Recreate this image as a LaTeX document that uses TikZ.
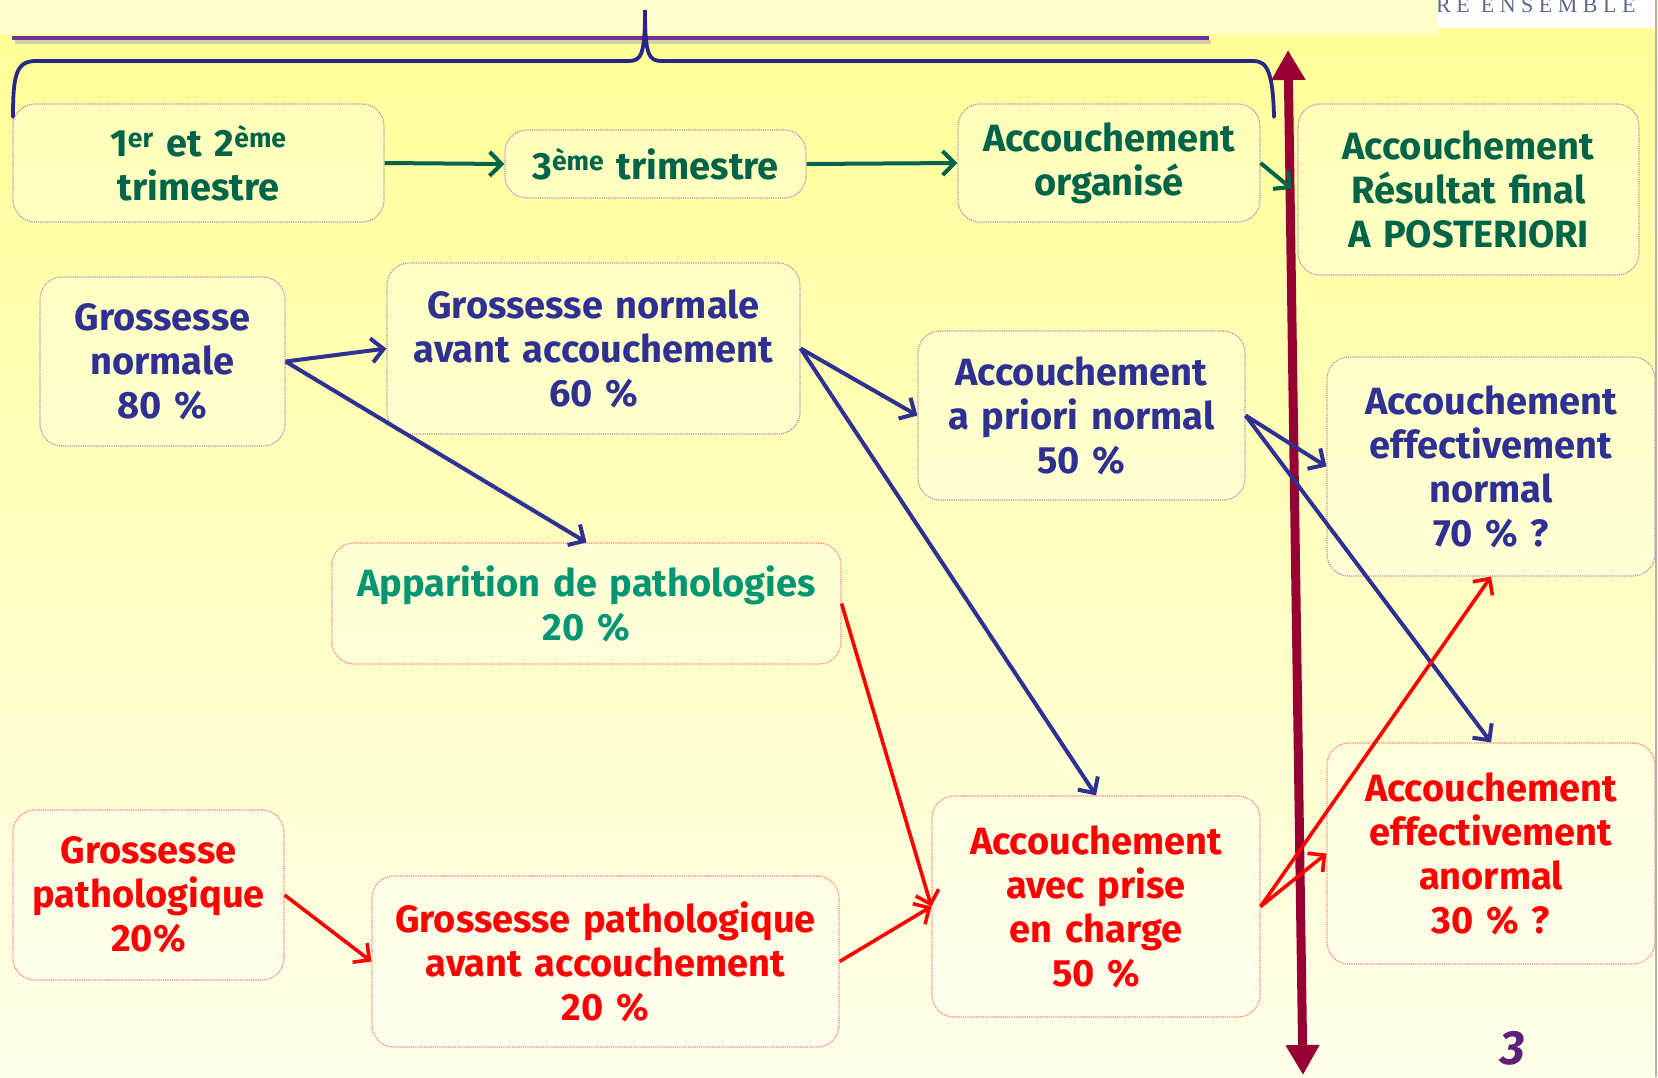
\documentclass[tikz,border=0pt]{standalone}
\usepackage{fontspec}
\setmainfont[WordSpace=1.4]{Fira Sans}
\newfontfamily\spacedfont[LetterSpace=25]{Liberation Serif}
\usetikzlibrary{arrows.meta}
\definecolor{bgtop}{RGB}{255,255,150}
\definecolor{bgbot}{RGB}{255,255,235}
\definecolor{bandcol}{RGB}{255,255,205}
\definecolor{tgreen}{RGB}{0,100,72}
\definecolor{tblue}{RGB}{46,49,146}
\definecolor{tteal}{RGB}{0,150,115}
\definecolor{tred}{RGB}{255,0,0}
\definecolor{maroonc}{RGB}{150,0,50}
\definecolor{bpurple}{RGB}{112,48,160}
\definecolor{bracecol}{RGB}{40,40,130}
\definecolor{bordpink}{RGB}{190,140,180}
\definecolor{bordred}{RGB}{255,130,130}
\definecolor{numpurple}{RGB}{95,30,120}
\definecolor{logocol}{RGB}{90,105,140}
\begin{document}
\begin{tikzpicture}[x=1pt,y=-1pt,
  box/.style={draw=bordpink, densely dotted, line width=1.2pt, rounded corners=22pt,
    fill=white, fill opacity=0.3, text opacity=1, align=center,
    font=\fontsize{38}{44}\selectfont\bfseries, inner sep=0pt},
  redbox/.style={box, draw=bordred},
  garrow/.style={draw=tgreen, line width=4pt, -{Straight Barb[length=12pt,width=24pt]}},
  barrow/.style={draw=tblue, line width=4pt, -{Straight Barb[length=12pt,width=24pt]}},
  rarrow/.style={draw=tred, line width=3.6pt, -{Straight Barb[length=12pt,width=24pt]}},
]
\useasboundingbox (0,0) rectangle (1658,1077);
% background
\shade[top color=bgtop, bottom color=bgbot] (0,0) rectangle (1658,1077);
\fill[bandcol] (0,0) rectangle (1438,34);
\fill[white] (1438,0) rectangle (1656,28);
\begin{scope}
\clip (1438,0) rectangle (1656,28);
\node[anchor=base west, inner sep=0pt, text=logocol, font=\fontsize{22}{22}\selectfont\spacedfont] (logo) at (1436,12) {RE ENSEMBLE};
\end{scope}
\draw[gray!60, line width=1.5pt] (1656,0) -- (1656,1077);
% purple rule with shadow
\draw[black!35, opacity=0.5, line width=4.5pt] (15,42) -- (1211,42);
\draw[bpurple, line width=4.5pt] (12,38) -- (1209,38);
% brace
\draw[bracecol, line width=3.8pt, line cap=round]
  (13,117) .. controls (13,75) and (16,61) .. (36,61) -- (628,61)
  .. controls (641,61) and (645,56) .. (645,10)
  .. controls (645,56) and (649,61) .. (662,61) -- (1254,61)
  .. controls (1268,61) and (1273,75) .. (1274,117);
% boxes
\node[box, text=tgreen, minimum width=371pt, minimum height=118pt] (A) at (198.5,163) {1\textsuperscript{er} et 2\textsuperscript{ème}\\trimestre};
\node[box, text=tgreen, minimum width=301pt, minimum height=68pt] (B) at (655.5,164) {3\textsuperscript{ème} trimestre};
\node[box, text=tgreen, minimum width=302pt, minimum height=118pt] (C) at (1109,163) {Accouchement\\organisé};
\node[box, text=tgreen, minimum width=341pt, minimum height=171pt] (D) at (1468.5,189.5) {Accouchement\\Résultat final\\A POSTERIORI};
\node[box, text=tblue, minimum width=245pt, minimum height=169pt] (E) at (162.5,361.5) {Grossesse\\normale\\80 \%};
\node[box, text=tblue, minimum width=413pt, minimum height=171pt] (F) at (593.5,348.5) {Grossesse normale\\avant accouchement\\60 \%};
\node[box, text=tblue, minimum width=327pt, minimum height=169pt] (G) at (1081.5,415.5) {Accouchement\\a priori normal\\50 \%};
\node[box, text=tblue, minimum width=328pt, minimum height=219pt] (H) at (1491,466.5) {Accouchement\\effectivement\\normal\\70 \% ?};
\node[redbox, text=tteal, minimum width=509pt, minimum height=121pt] (I) at (586.5,603.5) {Apparition de pathologies\\20 \%};
\node[redbox, text=tred, minimum width=271pt, minimum height=170pt] (J) at (148.5,895) {Grossesse\\pathologique\\20\%};
\node[redbox, text=tred, minimum width=467pt, minimum height=171pt] (K) at (605.5,961.5) {Grossesse pathologique\\avant accouchement\\20 \%};
\node[redbox, text=tred, minimum width=328pt, minimum height=221pt] (L) at (1096,906.5) {Accouchement\\avec prise\\en charge\\50 \%};
\node[redbox, text=tred, minimum width=328pt, minimum height=221pt] (M) at (1491,853.5) {Accouchement\\effectivement\\anormal\\30 \% ?};
% vertical maroon double arrow
\coordinate (vtop) at (1288,50);
\coordinate (vbot) at (1303,1075);
\draw[maroonc, line width=9pt, {Triangle[length=30pt,width=32pt]}-{Triangle[length=30pt,width=32pt]}] (vtop) -- (vbot);
% green arrows
\coordinate (cend) at (1292,189);
\draw[garrow] (A.east) -- (B.west);
\draw[garrow] (B.east) -- (C.west);
\draw[garrow] (C.east) -- (cend);
% blue arrows
\draw[barrow] (E.east) -- (F.west);
\draw[barrow] (E.east) -- (I.north);
\draw[barrow] (F.east) -- (G.west);
\draw[barrow] (F.east) -- (L.north);
\draw[barrow] (G.east) -- (H.west);
\draw[barrow] (G.east) -- (M.north);
% red arrows
\draw[rarrow] (I.east) -- (L.west);
\draw[rarrow] (J.east) -- (K.west);
\draw[rarrow] (K.east) -- (L.west);
\draw[rarrow] (L.east) -- (H.south);
\draw[rarrow] (L.east) -- (M.west);
% page number
\node[text=numpurple, font=\fontsize{48}{48}\selectfont\bfseries\itshape, inner sep=0pt] (pg) at (1513,1048) {3};
\end{tikzpicture}
\end{document}
